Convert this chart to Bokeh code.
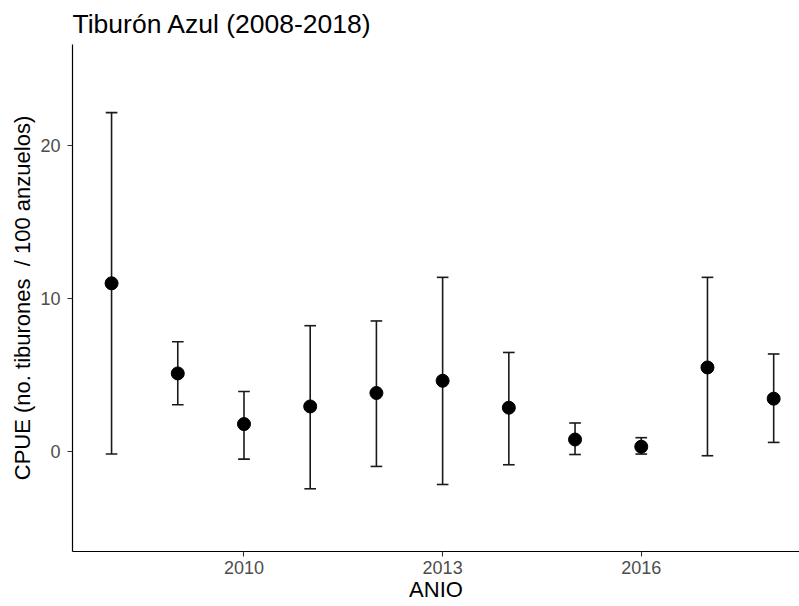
from bokeh.plotting import figure
from bokeh.models import Range1d, FixedTicker, ColumnDataSource
from bokeh.embed import file_html
from bokeh.resources import INLINE

years = [2008, 2009, 2010, 2011, 2012, 2013, 2014, 2015, 2016, 2017, 2018]
cpue = [10.99, 5.10, 1.79, 2.94, 3.82, 4.62, 2.86, 0.78, 0.31, 5.49, 3.45]
lower = [-0.17, 3.05, -0.50, -2.44, -0.98, -2.16, -0.87, -0.20, -0.17, -0.28, 0.59]
upper = [22.15, 7.17, 3.92, 8.22, 8.53, 11.38, 6.47, 1.86, 0.90, 11.38, 6.37]
x_ticks = [2010, 2013, 2016]
y_ticks = [0, 10, 20]

cap = 0.088
src = ColumnDataSource(dict(
    x=years, y=cpue, lo=lower, hi=upper,
    xl=[v - cap for v in years], xr=[v + cap for v in years],
))

FONT = "Liberation Sans"

p = figure(width=799, height=606, output_backend="svg", toolbar_location=None,
           x_range=Range1d(2007.41, 2018.39), y_range=Range1d(-6.54, 26.6),
           min_border_left=72, min_border_right=0, min_border_top=44, min_border_bottom=55,
           title="Tiburón Azul (2008-2018)")

p.title.text_font = FONT
p.title.text_font_size = "26.5px"
p.title.text_font_style = "normal"
p.title.text_color = "black"
p.title.offset = 0
p.title.standoff = 11

p.xgrid.visible = False
p.ygrid.visible = False
p.outline_line_color = None
p.background_fill_color = "white"
p.border_fill_color = "white"

for ax in (p.xaxis[0], p.yaxis[0]):
    ax.axis_line_color = "black"
    ax.axis_line_width = 1.2
    ax.major_tick_line_color = "#333333"
    ax.major_tick_line_width = 1.1
    ax.major_tick_in = 0
    ax.major_tick_out = 5
    ax.minor_tick_line_color = None
    ax.major_label_text_font = FONT
    ax.major_label_text_font_size = "18px"
    ax.major_label_text_color = "#4D4D4D"
    ax.axis_label_text_font = FONT
    ax.axis_label_text_font_size = "22px"
    ax.axis_label_text_font_style = "normal"
    ax.axis_label_text_color = "black"

p.xaxis.ticker = FixedTicker(ticks=x_ticks)
p.yaxis.ticker = FixedTicker(ticks=y_ticks)
p.xaxis.axis_label = "ANIO"
p.yaxis.axis_label = "CPUE (no. tiburones \u00a0/ 100 anzuelos)"
p.xaxis.major_label_standoff = 4
p.yaxis.major_label_standoff = 7
p.xaxis.axis_label_standoff = 0
p.yaxis.axis_label_standoff = 2

p.segment(x0="x", y0="lo", x1="x", y1="hi", source=src, line_color="#1a1a1a", line_width=1.6)
p.segment(x0="xl", y0="hi", x1="xr", y1="hi", source=src, line_color="#1a1a1a", line_width=1.6)
p.segment(x0="xl", y0="lo", x1="xr", y1="lo", source=src, line_color="#1a1a1a", line_width=1.6)
p.scatter(x="x", y="y", source=src, size=13, fill_color="black", line_color="black")

open("out.html", "w").write(file_html(p, INLINE))
